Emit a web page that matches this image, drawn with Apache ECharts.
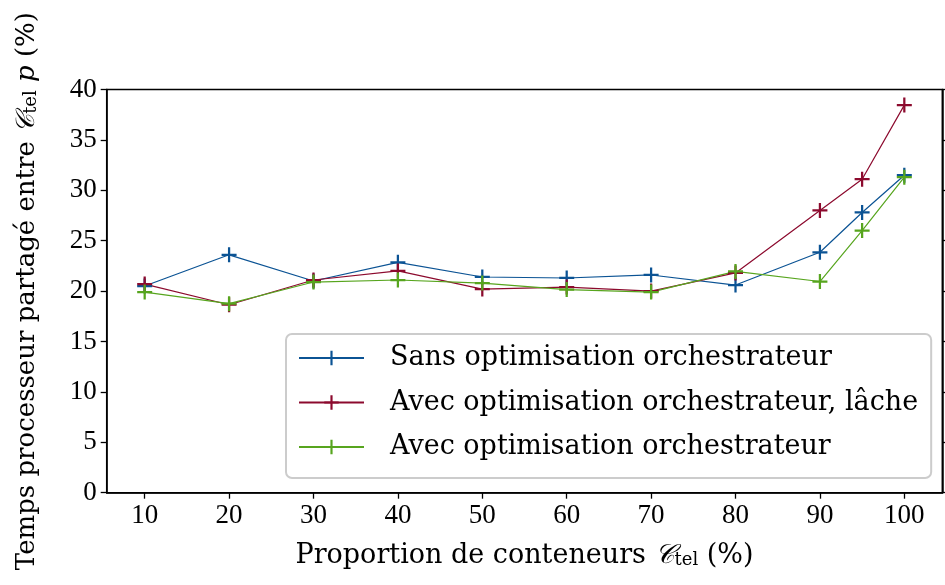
<!DOCTYPE html>
<html>
<head>
<meta charset="utf-8">
<script src="https://cdn.jsdelivr.net/npm/echarts@6/dist/echarts.min.js"></script>
<style>
html,body{margin:0;padding:0;background:#fff;}
#c{width:945px;height:585px;}
</style>
</head>
<body>
<div id="c"></div>
<script>
const xValues = [10, 20, 30, 40, 50, 60, 70, 80, 90, 95, 100];
const xTicks = [10, 20, 30, 40, 50, 60, 70, 80, 90, 100];
const yTicks = [0, 5, 10, 15, 20, 25, 30, 35, 40];
const sansOpt = [20.5, 23.6, 21.0, 22.85, 21.4, 21.3, 21.6, 20.6, 23.85, 27.8, 31.5];
const avecLache = [20.7, 18.65, 21.1, 22.0, 20.2, 20.4, 20.0, 21.8, 28.0, 31.1, 38.45];
const avecOpt = [19.9, 18.75, 20.9, 21.1, 20.8, 20.15, 19.9, 21.95, 20.95, 26.0, 31.3];
const seriesNames = ['Sans optimisation orchestrateur', 'Avec optimisation orchestrateur, lâche', 'Avec optimisation orchestrateur'];
const colors = ['#0B5394', '#8C0A2E', '#57A51E'];

const FONT = 'Liberation Serif';
const TFONT = 'DejaVu Serif';
const TSIZE = 27;
const plus = 'path://M8.5,0h3v20h-3z M0,8.5h20v3h-20z';
function pairs(v){ return xValues.map((x,i)=>[x,v[i]]); }
function mk(name, data, color){
  return {
    name, type:'line', data: pairs(data),
    symbol: plus, symbolSize: 15, showSymbol: true,
    lineStyle:{color, width:1.2},
    itemStyle:{color, borderWidth:0},
    emphasis:{disabled:true}, animation:false, z:2
  };
}
function richFor(size){
  return {
    c:{fontFamily:'DejaVu Serif', fontStyle:'italic', fontSize:size, color:'#000'},
    s:{fontFamily:TFONT, fontSize:Math.round(size*0.68), color:'#000', verticalAlign:'bottom', padding:[6,0,0,0]},
    i:{fontFamily:TFONT, fontStyle:'italic', fontSize:size, color:'#000'}
  };
}
const chart = echarts.init(document.getElementById('c'), null, {renderer:'canvas'});
chart.setOption({
  animation:false,
  backgroundColor:'#fff',
  grid:{left:106.7, right:2.7, top:89.5, bottom:92.3, show:true, borderColor:'#000', borderWidth:1.5, backgroundColor:'transparent'},
  legend:{
    orient:'vertical', left:286, top:334,
    backgroundColor:'#fff', borderColor:'#cccccc', borderWidth:2, borderRadius:6,
    padding:[9, 13, 16, 12], itemGap:14.5, itemWidth:65, itemHeight:18,
    textStyle:{fontFamily:TFONT, fontSize:TSIZE, color:'#000', lineHeight:30, padding:[0,0,0,21]},
    data: seriesNames
  },
  xAxis:{
    type:'value', min:5.5, max:104.5,
    name:'Proportion de conteneurs {c|𝒞}{s|tel} (%)', nameLocation:'middle', nameGap:50,
    nameTextStyle:{fontFamily:TFONT, fontSize:TSIZE, color:'#000', rich:richFor(TSIZE)},
    axisLine:{show:true, lineStyle:{color:'#000', width:1.5}},
    axisTick:{show:true, inside:false, length:6, lineStyle:{color:'#000', width:1.3}, customValues:xTicks},
    axisLabel:{fontFamily:FONT, fontSize:27, color:'#000', margin:10, customValues:xTicks},
    splitLine:{show:false}
  },
  yAxis:[{
    type:'value', min:0, max:40, interval:5, position:'left',
    name:'Temps processeur partagé entre {c|𝒞}{s|tel} {i|p} (%)', nameLocation:'middle', nameGap:66, nameRotate:90,
    nameTextStyle:{fontFamily:TFONT, fontSize:26, color:'#000', rich:richFor(26)},
    axisLine:{show:true, lineStyle:{color:'#000', width:1.5}},
    axisTick:{show:true, inside:false, length:6, lineStyle:{color:'#000', width:1.3}},
    axisLabel:{fontFamily:FONT, fontSize:27, color:'#000', margin:10, customValues:yTicks},
    splitLine:{show:false}
  },{
    type:'value', min:0, max:40, interval:5, position:'right',
    axisLine:{show:true, lineStyle:{color:'#000', width:1.5}},
    axisTick:{show:true, inside:false, length:6, lineStyle:{color:'#000', width:1.3}},
    axisLabel:{show:false},
    splitLine:{show:false}
  }],
  series:[
    mk(seriesNames[0], sansOpt, colors[0]),
    mk(seriesNames[1], avecLache, colors[1]),
    mk(seriesNames[2], avecOpt, colors[2])
  ]
});
</script>
</body>
</html>
